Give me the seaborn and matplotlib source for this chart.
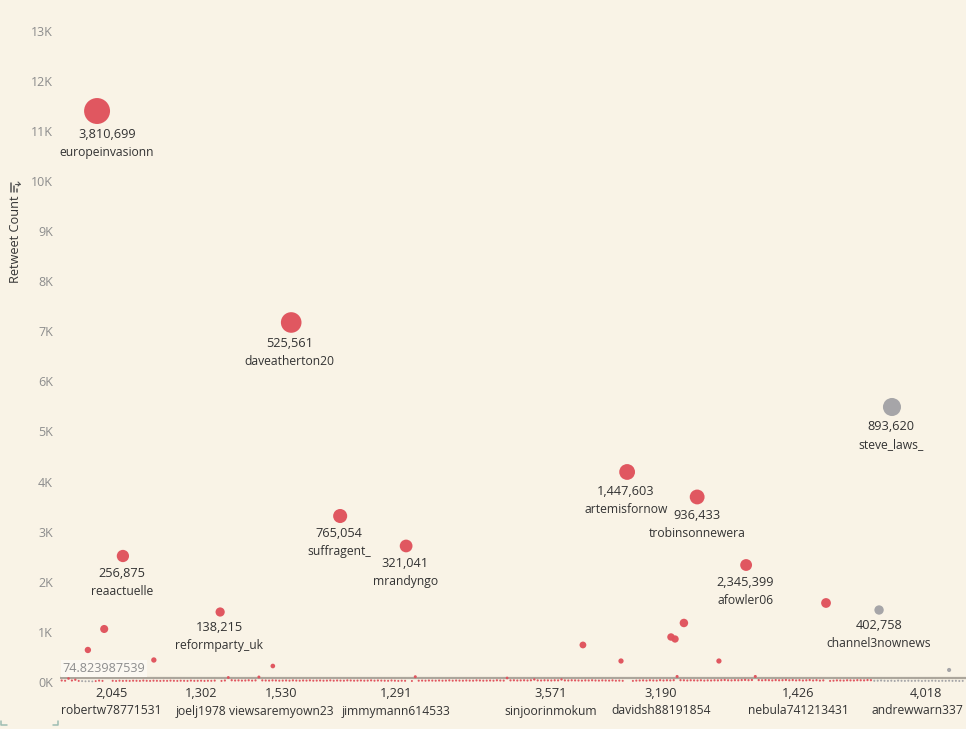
import numpy as np
import pandas as pd
import matplotlib
matplotlib.use("Agg")
import matplotlib.pyplot as plt
from matplotlib.lines import Line2D
from matplotlib.transforms import blended_transform_factory
import seaborn as sns

W, H = 966, 729
BG = "#f9f3e6"
n = np.nan

# Users shown with a visible mark: order position along the axis, retweets, group
notable_position = [10.9, 68.0, 244.7, 166.8, 187.4, 82.4, 101.8, 18.5, 201.8, 225.3, 240.9,
                    47.1, 183.5, 179.7, 180.9, 153.8, 13.0, 8.2, 27.6, 165.0, 193.8, 62.6, 261.5]
notable_retweets = [11397, 7176, 5489, 4192, 3693, 3313, 2715, 2515, 2335, 1577, 1437,
                    1397, 1178, 898, 858, 739, 1058, 639, 439, 419, 419, 319, 240]
notable_group = ["red", "red", "grey", "red", "red", "red", "red", "red", "red", "red", "grey",
                 "red", "red", "red", "red", "red", "red", "red", "red", "red", "red", "red", "grey"]

# Users lying along the bottom of the chart, in axis order
baseline_red = [
    30, 25, 70, 30, 45, 22, n, n, n, n, 18, 28, 22, n, n, 24, 20, 26, 22, 24,
    22, 26, 24, 22, 28, 24, 22, 26, 24, 22, 25, 23, 27, 24, 22, 26, 24, 22, 28, 23,
    24, 26, 22, 25, 24, 28, n, 22, 30, 90, 35, 30, 32, 28, 30, 34, 28, 32, 100, 32,
    30, 28, 32, 30, 26, 28, 30, 26, 32, 28, 26, 30, 28, 32, 26, 28, 30, 26, 28, 32,
    26, 30, 28, 26, 32, 30, 26, 28, 30, 26, 28, 32, 26, 30, 28, 26, 24, 30, 26, 22,
    26, 24, n, 20, 105, 26, 28, 26, 30, 28, 26, 30, 26, 28, 32, 26, 30, 28, 26, 30,
    28, 26, 32, 30, 26, 28, 30, 26, 34, 30, 28, 80, 32, 34, 30, 32, 34, 30, 34, 50,
    32, 30, 34, 32, 30, 34, 32, 50, 32, 30, 34, 32, 30, 28, 32, 30, 34, 30, 28, 32,
    30, 28, 32, 26, 28, 24, n, n, 22, 28, 30, 32, 28, 34, 30, 28, 36, 30, 34, 32,
    36, 110, 36, 34, 30, 34, 32, 30, 34, 28, 32, 30, 34, 32, 36, 40, 34, 32, 36, 34,
    38, 42, 36, 40, 110, 38, 34, 38, 36, 32, 38, 34, 36, 40, 34, 38, 32, 36, 30, 34,
    38, 30, 36, 28, 32, n, 22, 26, 32, 30, 28, 34, 32, 30, 36, 34, 32, 38, 36,
]
baseline_grey = [
    24, 26, 30, 24, 22, 26, 20, 28, 24, 22, 26, 22, 24, 26, 20, 24, 22, 26, 24,
    20, 24, 22, 26, 22, 24, 20, 22,
]
baseline_early_grey = [18, 14, 16, 12]

# Text beside the marks
label_names = ["europeinvasionn", "daveatherton20", "steve_laws_", "artemisfornow", "trobinsonnewera",
               "suffragent_", "mrandyngo", "reaactuelle", "afowler06", "reformparty_uk", "channel3nownews"]
label_counts = ["3,810,699", "525,561", "893,620", "1,447,603", "936,433",
                "765,054", "321,041", "256,875", "2,345,399", "138,215", "402,758"]
label_mark = [0, 1, 2, 3, 4, 5, 6, 7, 8, 11, 10]
label_position = [13.8, 67.6, 244.4, 166.5, 187.4, 82.1, 101.5, 18.2, 201.5, 46.8, 240.9]
label_gap = [23, 21, 19, 19, 18, 17, 17, 17, 17, 15, 15]

# Text below the axis
bottom_names = ["robertw78771531", "joelj1978", "viewsaremyown23", "jimmymann614533",
                "sinjoorinmokum", "davidsh88191854", "nebula741213431", "andrewwarn337"]
bottom_counts = ["2,045", "1,302", "1,530", "1,291", "3,571", "3,190", "1,426", "4,018"]
bottom_count_position = [15.0, 41.5, 65.0, 98.8, 144.4, 176.8, 217.1, 254.7]
bottom_name_position = [15.0, 41.5, 65.0, 98.8, 144.4, 176.8, 217.1, 252.2]

y_ticks = list(range(0, 14000, 1000))
y_tick_labels = [f"{t // 1000}K" for t in y_ticks]
reference_value = 74.823987539

# Assemble one table
red_pos = [i + 0.5 for i in range(len(baseline_red))]
grey_pos = [len(baseline_red) + i + 0.5 for i in range(len(baseline_grey))]
early_pos = [6.5, 7.5, 8.5, 9.5]
df = pd.DataFrame({
    "position": notable_position + red_pos + grey_pos + early_pos,
    "retweets": notable_retweets + baseline_red + baseline_grey + baseline_early_grey,
    "group": notable_group + ["red"] * len(red_pos) + ["grey"] * (len(grey_pos) + len(early_pos)),
}).dropna()

sns.set_theme(style="white")
plt.rcParams["font.family"] = ["Open Sans", "DejaVu Sans"]
fig = plt.figure(figsize=(W / 100, H / 100), dpi=100, facecolor=BG)
ax = fig.add_axes([60 / W, (H - 686) / H, (W - 60) / W, 686 / H], facecolor=BG)

sns.scatterplot(data=df, x="position", y="retweets", hue="group", size="retweets",
                palette={"red": "#e0525c", "grey": "#a3a3a6"}, sizes=(1.5, 398),
                size_norm=(0, 13000), linewidth=0, alpha=0.97, legend=False, ax=ax, zorder=3)

ax.set_xlim(0, 906 / 3.4)
ax.set_ylim(-80, 13613)
for s in ax.spines.values():
    s.set_visible(False)
ax.set_xticks([])
ax.set_xlabel("")
ax.set_ylabel("")
ax.set_yticks(y_ticks)
ax.set_yticklabels(y_tick_labels, fontsize=9, color="#8d8d8d")
ax.tick_params(axis="y", length=0, pad=5)
ax.grid(False)

ax.axhline(reference_value, color="#aca69c", lw=1.6, zorder=2)

TXT = "#333333"
NUM_FS, NAME_FS = 9.2, 8.75
for name, count, m, pos, gap in zip(label_names, label_counts, label_mark, label_position, label_gap):
    y = notable_retweets[m]
    ax.annotate(count, xy=(pos, y), xytext=(0, -(gap + 0.5) * 0.72), textcoords="offset points",
                ha="center", va="center", fontsize=NUM_FS, color=TXT, zorder=5)
    ax.annotate(name, xy=(pos, y), xytext=(0, -(gap + 18.5) * 0.72), textcoords="offset points",
                ha="center", va="center", fontsize=NAME_FS, color=TXT, zorder=5)

trans = blended_transform_factory(ax.transData, fig.transFigure)
for count, pos in zip(bottom_counts, bottom_count_position):
    ax.text(pos, 1 - 693.5 / H, count, transform=trans, ha="center", va="center",
            fontsize=NUM_FS, color=TXT, clip_on=False)
for name, pos in zip(bottom_names, bottom_name_position):
    ax.text(pos, 1 - 711 / H, name, transform=trans, ha="center", va="center",
            fontsize=NAME_FS, color=TXT, clip_on=False)

fig.text(62.5 / W, 1 - 668.5 / H, f"{reference_value:.9f}", ha="left", va="center", fontsize=9.1,
         color="#8d8d8d", zorder=6,
         bbox=dict(boxstyle="square,pad=0.12", facecolor="#fbf8f1", edgecolor="none"))

fig.text(16 / W, 1 - 239 / H, "Retweet Count", rotation=90, ha="center", va="center",
         fontsize=9.2, color=TXT)

# Sort icon beside the axis title
for x0, y0, y1 in [(11, 183, 192), (14, 186, 192), (17, 189, 192)]:
    fig.add_artist(Line2D([x0 / W, x0 / W], [1 - y0 / H, 1 - y1 / H], color="#555555", lw=1.1))
fig.add_artist(Line2D([15 / W, 20 / W], [1 - 184 / H, 1 - 184 / H], color="#555555", lw=0.8))
fig.add_artist(Line2D([18 / W, 20 / W, 18 / W], [1 - 182 / H, 1 - 184 / H, 1 - 186 / H], color="#555555", lw=0.8))

# Corner marks
for xs, ys in [([1, 1, 7], [721, 725, 725]), ([53, 58, 58], [725, 725, 721])]:
    fig.add_artist(Line2D([x / W for x in xs], [1 - y / H for y in ys], color="#9dbdb2", lw=1.1))

fig.savefig("out.png", dpi=100, facecolor=BG)
